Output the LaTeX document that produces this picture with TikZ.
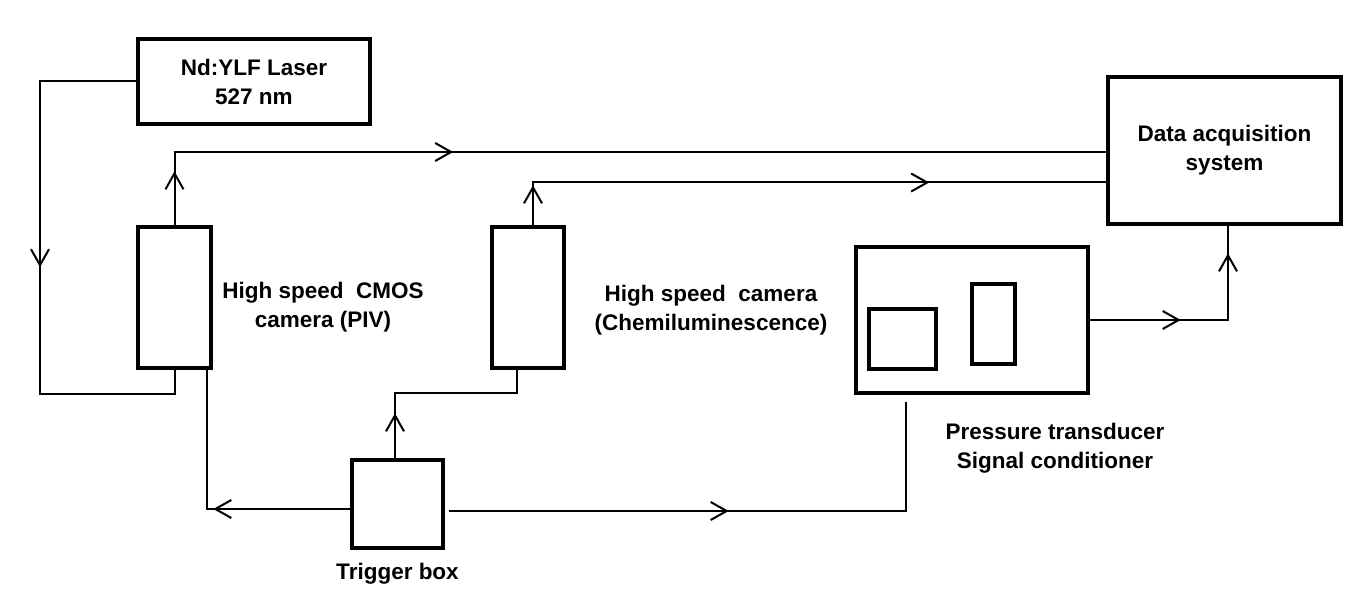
\documentclass[tikz,border=0pt]{standalone}
\usepackage{fontspec}
\setmainfont{Liberation Sans}
\usetikzlibrary{positioning, arrows.meta, decorations.markings}

\begin{document}
\begin{tikzpicture}[x=0.5pt,y=-0.5pt,>={Straight Barb[length=8pt,width=9pt]},
	font=\fontsize{11.25}{14.5}\selectfont\bfseries,line width=1pt]
	
	\tikzstyle{unit}=[draw=black,line width=1.7pt,inner sep=0pt,align=center]
	\tikzstyle{tag}=[align=center,inner sep=0pt]
	\tikzstyle{arrowat}=[postaction={decorate,decoration={markings,mark=at position #1 with {\arrow{>}}}}]
	
	\useasboundingbox (0,0) rectangle (1366,604);
	
	\node[unit, minimum width=116pt, minimum height=42.5pt] (laser) at (254,81.5) {Nd:YLF Laser\\527 nm};
	\node[unit, minimum width=36.5pt, minimum height=70.5pt] (piv) at (174.5,297.5) {};
	\node[unit, minimum width=36pt, minimum height=70.5pt] (chemi) at (528,297.5) {};
	\node[unit, minimum width=116.5pt, minimum height=73.5pt] (daq) at (1224.5,150.5) {Data acquisition\\system};
	\node[unit, minimum width=116pt, minimum height=73pt] (ptsc) at (972,320) {};
	\node[unit, minimum width=33.5pt, minimum height=30pt] (gauge) at (902.5,339) {};
	\node[unit, minimum width=21.5pt, minimum height=40pt] (amp) at (993.5,324) {};
	\node[unit, minimum width=45.5pt, minimum height=44pt] (trig) at (397.5,504) {};
	
	\node[tag] (pivtag) at (323,307) {High speed\ \ CMOS\\camera (PIV)};
	\node[tag] (chemitag) at (711,310) {High speed\ \ camera\\(Chemiluminescence)};
	\node[tag] (ptsctag) at (1055,448) {Pressure transducer\\Signal conditioner};
	\node[tag, below=6pt of trig] (trigtag) {Trigger box};
	
	\coordinate (bend) at (40,394);
	
	\draw[arrowat=141pt] (laser.west) -| (bend) -| (piv.south);
	\draw[arrowat=27pt, arrowat=176pt] (piv.north) |- ([yshift=-0.75pt]daq.west);
	\draw[arrowat=20pt, arrowat=219.5pt] ([xshift=2.5pt]chemi.north) |- ([yshift=-16pt]daq.west);
	\draw[arrowat=22.5pt] ([xshift=-1.25pt]trig.north) -- ++(0,-65) -| ([xshift=-5.5pt]chemi.south);
	\draw[arrowat=68.5pt] ([yshift=-2.5pt]trig.west) -| ([xshift=-3pt]piv.south east);
	\draw[arrowat=140pt] ([xshift=2pt,yshift=-3.5pt]trig.east) -| ([xshift=-33pt,yshift=-3.5pt]ptsc.south);
	\draw[arrowat=45.5pt, arrowat=102.5pt] (ptsc.east) -| ([xshift=1.75pt]daq.south);
	\end{tikzpicture}
\end{document}
